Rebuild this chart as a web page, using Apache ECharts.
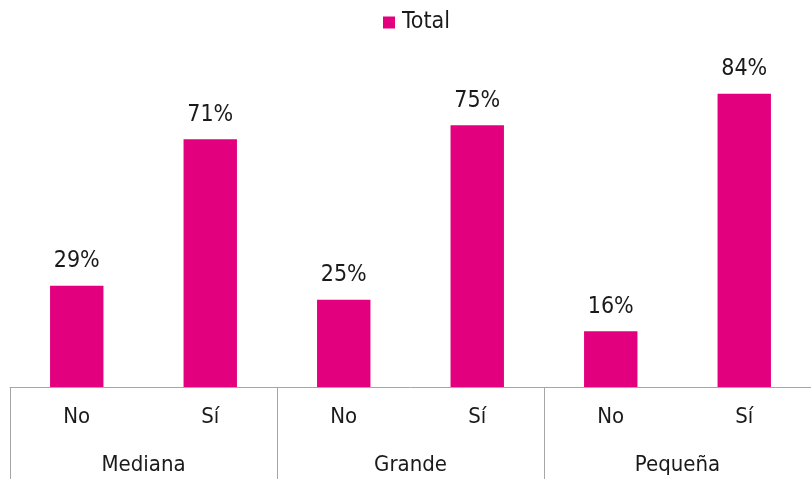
<!DOCTYPE html>
<html><head><meta charset="utf-8">
<script src="https://cdn.jsdelivr.net/npm/echarts@6/dist/echarts.min.js"></script>
<style>html,body{margin:0;padding:0;background:#fff}#c{width:811px;height:479px}</style>
</head><body><div id="c"></div>
<script>
const categories = ['No', 'Sí', 'No', 'Sí', 'No', 'Sí'];
const groups = ['Mediana', 'Grande', 'Pequeña'];
const totalValues = [29, 71, 25, 75, 16, 84];
const seriesName = 'Total';

const FONT = 'DejaVu Sans Condensed';
const chart = echarts.init(document.getElementById('c'));
chart.setOption({
  animation: false,
  textStyle: { fontFamily: FONT },
  legend: {
    data: [seriesName], top: 6, left: 378,
    itemWidth: 12, itemHeight: 12, itemGap: 7, icon: 'rect',
    textStyle: { fontSize: 23, color: '#1a1a1a', fontFamily: FONT, padding: [0, 0, 0, 2] }
  },
  grid: { left: 10, width: 806, top: 38, bottom: 92, containLabel: false },
  xAxis: [{
    type: 'category', data: categories, position: 'bottom',
    axisLine: { lineStyle: { color: '#a6a6a6', width: 1 } },
    axisTick: { show: false },
    axisLabel: { fontSize: 22, color: '#1a1a1a', margin: 19, fontFamily: FONT }
  }, {
    type: 'category', data: groups, position: 'bottom',
    axisLine: { show: false },
    axisTick: { show: true, length: 95, lineStyle: { color: '#a6a6a6' } },
    axisLabel: { fontSize: 22, color: '#1a1a1a', margin: 67, fontFamily: FONT }
  }],
  yAxis: { type: 'value', min: 0, max: 100, show: false, splitLine: { show: false } },
  series: [{
    name: seriesName, type: 'bar', xAxisIndex: 0, data: totalValues,
    barWidth: '40%',
    itemStyle: { color: '#E3007F' },
    label: { show: true, position: 'top', distance: 13, formatter: '{c}%', fontSize: 23, color: '#1a1a1a', fontFamily: FONT }
  }]
});
</script></body></html>
